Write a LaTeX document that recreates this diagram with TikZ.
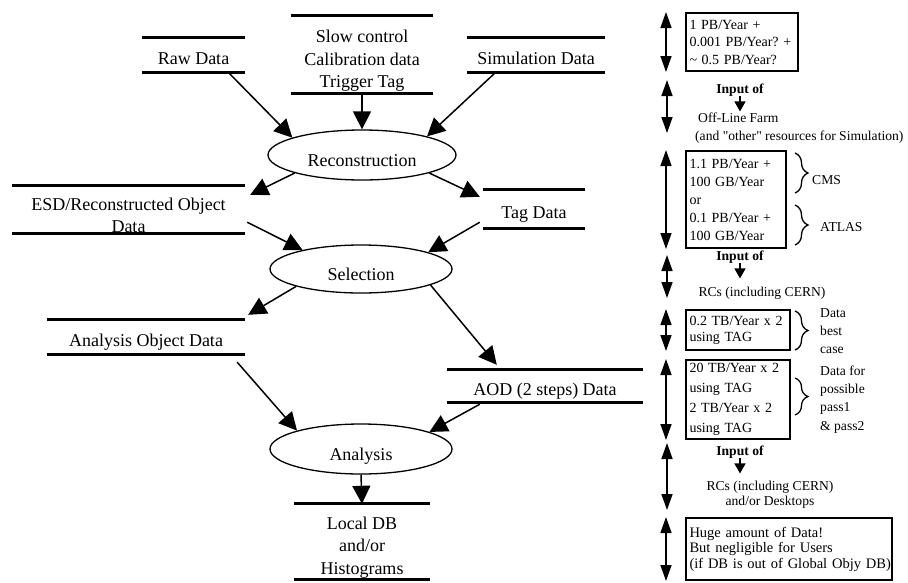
\documentclass[tikz,border=0pt]{standalone}
\usepackage{fontspec}
\setmainfont{Liberation Serif}
\usetikzlibrary{shapes.geometric, arrows.meta, positioning, decorations.pathreplacing}
\frenchspacing

\begin{document}
\begin{tikzpicture}[
            x=1pt, y=-1pt,
            >={Triangle[length=18pt,width=18pt]},
            proc/.style={ellipse, draw, line width=1.3pt, inner sep=0pt,
                font=\fontsize{18}{22.5}\selectfont,
                text height=22pt, text depth=0pt
            },
            store/.style={rectangle, inner sep=0pt, align=center,
                font=\fontsize{18}{22.5}\selectfont
            },
            single/.style={text height=18pt, text depth=0pt},
            bar/.style={line width=3pt},
            line/.style={draw, line width=1.5pt, ->},
            rate/.style={rectangle, draw, line width=2pt, inner xsep=3.5pt, inner ysep=0pt,
                align=left, font=\fontsize{14}{17.5}\selectfont
            },
            note/.style={inner sep=0pt, align=left, font=\fontsize{13.6}{17}\selectfont},
            head/.style={inner sep=0pt, font=\fontsize{13.6}{17}\selectfont\bfseries},
            span/.style={draw, line width=1.5pt,
                {Triangle[length=16pt,width=11pt]}-{Triangle[length=16pt,width=11pt]}},
            small/.style={draw, line width=1.5pt, -{Triangle[length=10pt,width=11pt]}},
            grp/.style={decorate, decoration={brace, amplitude=13pt}, line width=1.3pt}
        ]
            \useasboundingbox (0,0) rectangle (908,582);

            % Data flow: stores and processes
            \node [store, single, minimum width=103pt, minimum height=34pt] (raw) at (193.5,55) {Raw Data};
            \node [store, minimum width=142pt, minimum height=77pt] (slow) at (362,61) {Slow control\\Calibration data\\Trigger Tag};
            \node [store, single, minimum width=138pt, minimum height=34pt] (sim) at (536,55) {Simulation Data};
            \node [proc, minimum width=188pt, minimum height=50pt] (recon) at (362,155) {Reconstruction};
            \node [store, minimum width=233pt, minimum height=47pt] (esd) at (128.5,215.5) {ESD/Reconstructed Object\\Data};
            \node [store, single, minimum width=102pt, minimum height=38pt] (tag) at (534,209) {Tag Data};
            \node [proc, minimum width=182pt, minimum height=48pt] (select) at (361,269) {Selection};
            \node [store, single, minimum width=198pt, minimum height=34pt] (aodata) at (146,337) {Analysis Object Data};
            \node [store, single, minimum width=196pt, minimum height=32pt] (aodtwo) at (545,386) {AOD (2 steps) Data};
            \node [proc, minimum width=182pt, minimum height=50pt] (ana) at (361,449) {Analysis};
            \node [store, minimum width=136pt, minimum height=75pt] (localdb) at (362,547.5) {Local DB\\and/or\\Histograms};

            % the two thick lines of each store (raised where the text sits low)
            \foreach \n/\d in {raw/0, slow/6.5, sim/0, esd/6, tag/0, aodata/0, aodtwo/0, localdb/6}
                \draw [bar] ([yshift=\d pt]\n.north west) -- ([yshift=\d pt]\n.north east)
                    ([yshift=\d pt]\n.south west) -- ([yshift=\d pt]\n.south east);

            % Arrows between stores and processes
            \path [line] ([xshift=-17pt]raw.south east) -- (recon.166);
            \path [line] ([yshift=6.5pt]slow.south) -- (recon.north);
            \path [line] ([xshift=29pt]sim.south west) -- (recon.16);
            \path [line] (recon.195) -- ([xshift=5pt,yshift=-3pt]esd.north east);
            \path [line] (recon.345) -- ([xshift=-3pt,yshift=-7pt]tag.north west);
            \path [line] ([xshift=2pt,yshift=17pt]esd.south east) -- (select.162);
            \path [line] ([xshift=-3pt,yshift=6pt]tag.south west) -- (select.14);
            \path [line] (select.195) -- ([xshift=3pt,yshift=5pt]aodata.north east);
            \path [line] (select.347) -- ([xshift=50pt,yshift=5pt]aodtwo.north west);
            \path [line] ([xshift=-8pt,yshift=-8pt]aodata.south east) -- (ana.164);
            \path [line] ([xshift=33pt,yshift=-2pt]aodtwo.south west) -- (ana.14);
            \path [line] (ana.south) -- ([yshift=6pt]localdb.north);

            % Right column: volumes and where they go
            \node [rate, text width=105pt, minimum height=58pt] (vol1) at (742,42) {1 PB/Year +\\\mbox{0.001 PB/Year? +}\\\textasciitilde{} 0.5 PB/Year?};
            \node [head] (in1) at (740,90) {Input of};
            \coordinate [below=15pt of in1] (tip1);
            \node [note, anchor=west] (farm) at (698,118) {Off-Line Farm};
            \node [note, anchor=west] (others) at (695,137) {(and \textquotedbl other\textquotedbl{} resources for Simulation)};
            \node [rate, text width=93pt, minimum height=97pt, font=\fontsize{14}{18}\selectfont] (vol2) at (736,199.5) {1.1 PB/Year +\\100 GB/Year\\or\\0.1 PB/Year +\\100 GB/Year};
            \node [note, anchor=west] (cms) at (812,180) {CMS};
            \node [note, anchor=west] (atlas) at (820,227) {ATLAS};
            \node [head] (in2) at (740,257) {Input of};
            \coordinate [below=15pt of in2] (tip2);
            \node [note] (rcs) at (762,293) {RCs (including CERN)};
            \node [rate, text width=97pt, minimum height=40pt, font=\fontsize{14}{16}\selectfont] (vol3) at (738,330) {\mbox{0.2 TB/Year x 2}\\using TAG};
            \node [note, anchor=west, font=\fontsize{13.6}{18}\selectfont] (best) at (820,331) {Data\\best\\case};
            \node [rate, text width=97pt, minimum height=79pt, font=\fontsize{14}{20}\selectfont] (vol4) at (738,399.5) {20 TB/Year x 2\\using TAG\\2 TB/Year x 2\\using TAG};
            \node [note, anchor=west, font=\fontsize{13.6}{18.3}\selectfont] (pass) at (820,399.5) {Data for\\possible\\pass1\\\& pass2};
            \node [head] (in3) at (740,452) {Input of};
            \coordinate [below=15pt of in3] (tip3);
            \node [note, align=center, font=\fontsize{13.6}{15}\selectfont] (desk) at (770,494.5) {RCs (including CERN)\\and/or Desktops};
            \node [rate, text width=199pt, minimum height=62pt, font=\fontsize{14.5}{15.5}\selectfont] (vol5) at (789,549) {Huge amount of Data!\\But negligible for Users\\\mbox{(if DB is out of Global Objy DB)}};

            % free ends of the spans that have no box
            \coordinate (s2a) at (667,80);
            \coordinate (s2b) at (667,133);
            \coordinate (s4a) at (667,255);
            \coordinate (s4b) at (667,298);
            \coordinate (s7a) at (667,443);
            \coordinate (s7b) at (667,510);

            % double arrows
            \foreach \v in {vol1, vol2, vol3, vol4, vol5}
                \path [span] ([xshift=-19pt]\v.north west) -- ([xshift=-19pt]\v.south west);
            \path [span] (s2a) -- (s2b);
            \path [span] (s4a) -- (s4b);
            \path [span] (s7a) -- (s7b);

            % small arrows under "Input of"
            \path [small] (in1.south) -- (tip1);
            \path [small] (in2.south) -- (tip2);
            \path [small] (in3.south) -- (tip3);

            % braces
            \draw [grp] (795,153) -- (795,193);
            \draw [grp] (795,205) -- (795,245);
            \draw [grp] (795,311) -- (795,350);
            \draw [grp] (795,378) -- (795,415);
        \end{tikzpicture}
\end{document}
